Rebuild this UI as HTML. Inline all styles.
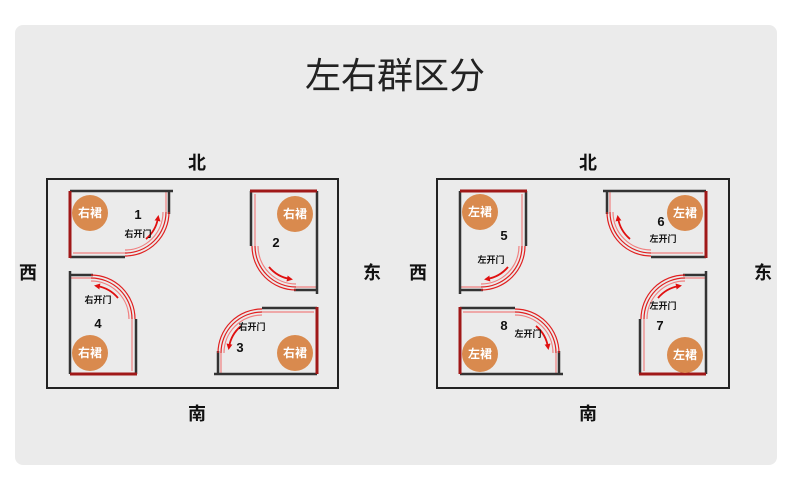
<!DOCTYPE html>
<html><head><meta charset="utf-8"><style>
html,body{margin:0;padding:0;background:#fff;}
body{width:790px;height:488px;overflow:hidden;font-family:"Liberation Sans","Noto Sans CJK SC",sans-serif;}
</style></head><body>
<svg width="790" height="488" viewBox="0 0 790 488" xmlns="http://www.w3.org/2000/svg" font-family="Liberation Sans, Noto Sans CJK SC, sans-serif">
<defs>
<marker id="ah" markerWidth="6" markerHeight="6" refX="3" refY="3" orient="auto" markerUnits="userSpaceOnUse" viewBox="0 0 6 6">
<path d="M0,0 L6,3 L0,6 Z" fill="#e01010"/></marker>
<g id="room">
<path d="M55,62 L3,62 M96,0 L96,21" stroke="#f08080" stroke-width="1.2" fill="none"/>
<path d="M0,0 L103,0 M99,0 L99,23 M0,66 L55,66" stroke="#333" stroke-width="2.5" fill="none"/>
<path d="M0,0 L0,67" stroke="#a01818" stroke-width="3" fill="none"/>
<path d="M55,65 A44,44 0 0 0 99,21" stroke="#e02020" stroke-width="1.2" fill="none"/>
<path d="M55,62 A41,41 0 0 0 96,21" stroke="#e02020" stroke-width="1.2" fill="none"/>
<path d="M55,59 A38,38 0 0 0 93,21" stroke="#f08080" stroke-width="1.2" fill="none"/>
<path d="M76,48 A35,35 0 0 0 88,27" stroke="#e01010" stroke-width="1.8" fill="none" marker-end="url(#ah)"/>
</g>
</defs>
<rect x="15" y="25" width="762" height="440" rx="8" fill="#ebebeb"/>
<text x="395" y="88" font-size="36" text-anchor="middle" fill="#222">左右群区分</text>

<g font-size="18" font-weight="bold" fill="#111" text-anchor="middle">
<text x="197" y="169">北</text><text x="197" y="420">南</text><text x="28" y="279">西</text><text x="372" y="279">东</text>
<text x="588" y="169">北</text><text x="588" y="420">南</text><text x="418" y="279">西</text><text x="763" y="279">东</text>
</g>
<rect x="47" y="179" width="291" height="209" fill="none" stroke="#222" stroke-width="2"/>
<rect x="437" y="179" width="292" height="209" fill="none" stroke="#222" stroke-width="2"/>

<use href="#room" transform="translate(70,191)"/>
<use href="#room" transform="translate(317,191) rotate(90)"/>
<use href="#room" transform="translate(70,374) rotate(-90)"/>
<use href="#room" transform="translate(317,374) rotate(180)"/>
<use href="#room" transform="translate(460,191) matrix(0,1,1,0,0,0)"/>
<use href="#room" transform="translate(706,191) scale(-1,1)"/>
<use href="#room" transform="translate(460,374) scale(1,-1)"/>
<use href="#room" transform="translate(706,374) matrix(0,-1,-1,0,0,0)"/>

<g fill="#d98a4e">
<circle cx="90" cy="213" r="18"/><circle cx="295" cy="214" r="18"/><circle cx="90" cy="353" r="18"/><circle cx="295" cy="353" r="18"/>
<circle cx="480" cy="212" r="18"/><circle cx="685" cy="213" r="18"/><circle cx="480" cy="354" r="18"/><circle cx="685" cy="355" r="18"/>
</g>
<g fill="#fff" font-size="12" font-weight="bold" text-anchor="middle">
<text x="90" y="217">右裙</text><text x="295" y="218">右裙</text><text x="90" y="357">右裙</text><text x="295" y="357">右裙</text>
<text x="480" y="216">左裙</text><text x="685" y="217">左裙</text><text x="480" y="358">左裙</text><text x="685" y="359">左裙</text>
</g>
<g fill="#111" font-size="13" font-weight="bold" text-anchor="middle">
<text x="138" y="219">1</text><text x="276" y="247">2</text><text x="98" y="328">4</text><text x="240" y="352">3</text>
<text x="504" y="240">5</text><text x="661" y="226">6</text><text x="504" y="330">8</text><text x="660" y="330">7</text>
</g>
<g fill="#111" font-size="9" font-weight="bold" text-anchor="middle">
<text x="138" y="237">右开门</text><text x="98" y="303">右开门</text><text x="252" y="330">右开门</text>
<text x="491" y="263">左开门</text><text x="663" y="242">左开门</text><text x="528" y="337">左开门</text><text x="663" y="309">左开门</text>
</g>
</svg>
</body></html>
